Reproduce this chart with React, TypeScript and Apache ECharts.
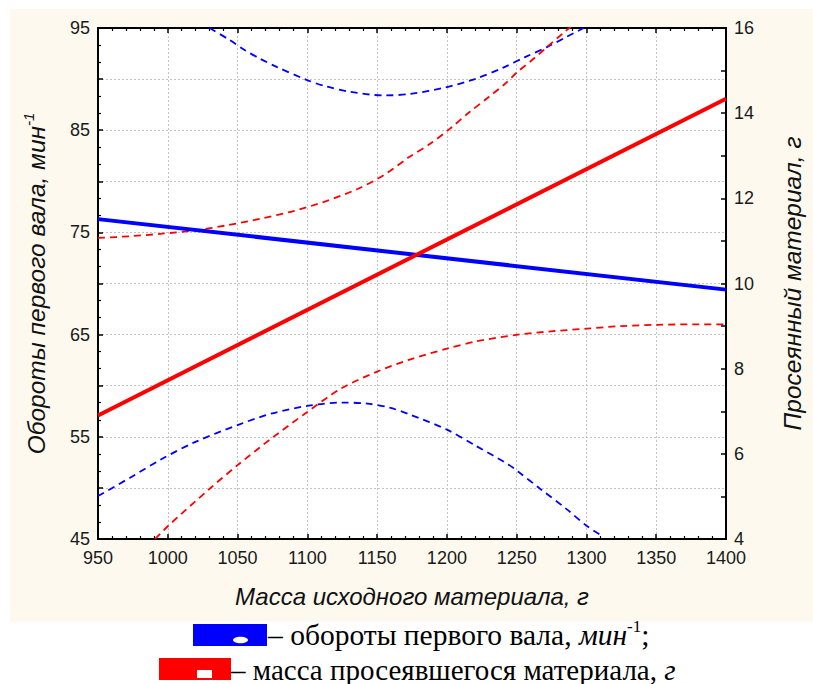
import React, { useEffect, useRef } from 'react';
import * as echarts from 'echarts';

// Regression lines
const blueLineX = [950, 1400];
const blueLineY = [76.3, 69.4];
const redLineX = [950, 1400];
const redLineY = [6.9, 14.34];

// Confidence bands – blue (left axis)
const blueUpperX = [1030, 1044, 1055, 1066, 1078, 1099, 1113, 1131, 1155, 1174, 1198, 1221, 1240, 1256, 1272, 1286, 1298];
const blueUpperY = [95, 93.85, 92.85, 92.0, 91.2, 89.95, 89.3, 88.75, 88.4, 88.55, 89.15, 90.05, 91.1, 92.15, 93.15, 94.15, 95.0];
const blueLowerX = [950, 973, 996, 1019, 1051, 1075, 1101, 1124, 1143, 1159, 1173, 1200, 1221, 1244, 1251, 1267, 1286, 1300, 1310];
const blueLowerY = [49.2, 51.0, 52.85, 54.45, 56.2, 57.3, 58.05, 58.35, 58.25, 57.85, 57.2, 55.7, 54.1, 52.3, 51.6, 49.9, 47.9, 46.3, 45.4];

// Confidence bands – red (right axis)
const redUpperX = [950, 973, 996, 1020, 1043, 1066, 1090, 1113, 1136, 1155, 1173, 1188, 1202, 1216, 1230, 1242, 1251, 1263, 1272, 1284, 1290];
const redUpperY = [11.07, 11.11, 11.17, 11.25, 11.37, 11.52, 11.7, 11.93, 12.22, 12.55, 12.97, 13.28, 13.63, 14.02, 14.38, 14.7, 14.98, 15.3, 15.56, 15.9, 16.06];
const redLowerX = [991, 1000, 1030, 1051, 1075, 1099, 1124, 1150, 1174, 1200, 1221, 1251, 1276, 1300, 1325, 1351, 1377, 1400];
const redLowerY = [4.0, 4.3, 5.18, 5.76, 6.38, 6.96, 7.53, 7.93, 8.22, 8.47, 8.64, 8.8, 8.88, 8.94, 9.0, 9.03, 9.04, 9.04];

const xAxisTitle = 'Масса исходного материала, г';
const leftAxisTitle = 'Обороты первого вала, мин';
const rightAxisTitle = 'Просеянный материал, г';
const legend1 = '– обороты первого вала, ';
const legend2 = '– масса просеявшегося материала, ';

const zip = (xs: number[], ys: number[]) => xs.map((x, i) => [x, ys[i]]);

const SANS = '"Liberation Sans", Arial, sans-serif';
const SERIF = '"Liberation Serif", "Times New Roman", serif';
const BLUE = '#0000FF';
const RED = '#FF0000';

export default function App() {
  const ref = useRef<HTMLDivElement>(null);
  useEffect(() => {
    document.body.style.margin = '0';
    const chart = echarts.init(ref.current!, null, { renderer: 'svg' });
    const axisLine = { show: true, onZero: false, lineStyle: { color: '#000', width: 2 } };
    const tick = { show: true, inside: true, length: 5, lineStyle: { color: '#000', width: 1.5 } };
    const gridLine = { show: true, lineStyle: { color: '#c4c4c4', type: [2, 2] as any, width: 1 } };
    const dashed = (color: string, data: number[][], yAxisIndex: number) => ({
      type: 'line', data, yAxisIndex, symbol: 'none', smooth: 0.3, silent: true,
      lineStyle: { color, width: 1.8, type: [7, 5] as any },
    });
    const solid = (color: string, data: number[][], yAxisIndex: number) => ({
      type: 'line', data, yAxisIndex, symbol: 'none', silent: true,
      lineStyle: { color, width: 4 },
    });
    chart.setOption({
      animation: false,
      backgroundColor: '#ffffff',
      grid: { left: 98, top: 28, width: 645, height: 511, show: true, backgroundColor: '#ffffff', borderColor: '#000', borderWidth: 2 },
      xAxis: [
        {
          type: 'value', min: 950, max: 1400, interval: 50, position: 'bottom',
          axisLine, axisTick: tick,
          minorTick: { show: true, splitNumber: 5, length: 3, lineStyle: { color: '#000', width: 1.2 } },
          axisLabel: { color: '#1a1a1a', fontSize: 18, fontFamily: SANS, margin: 10, formatter: (v: number) => String(v) },
          splitLine: gridLine,
          name: xAxisTitle, nameLocation: 'middle', nameGap: 45,
          nameTextStyle: { fontSize: 24, fontStyle: 'italic', fontFamily: SANS, color: '#111' },
        },
        {
          type: 'value', min: 950, max: 1400, interval: 50, position: 'top',
          axisLine, axisTick: tick,
          minorTick: { show: true, splitNumber: 5, length: 3, lineStyle: { color: '#000', width: 1.2 } },
          axisLabel: { show: false }, splitLine: { show: false },
        },
      ],
      yAxis: [
        {
          type: 'value', min: 45, max: 95, interval: 5, position: 'left',
          axisLine, axisTick: tick,
          minorTick: { show: true, splitNumber: 3, length: 3, lineStyle: { color: '#000', width: 1.2 } },
          axisLabel: {
            color: '#1a1a1a', fontSize: 18, fontFamily: SANS, margin: 8,
            formatter: (v: number) => ((Math.round(v - 45) % 10 === 0) ? String(v) : ''),
          },
          splitLine: gridLine,
          name: '{a|' + leftAxisTitle + '}{s|-1}', nameLocation: 'middle', nameRotate: 90, nameGap: 47,
          nameTextStyle: {
            color: '#111',
            rich: {
              a: { fontSize: 24.5, fontStyle: 'italic', fontFamily: SANS, color: '#111', lineHeight: 30 },
              s: { fontSize: 15, fontStyle: 'italic', fontFamily: SANS, color: '#111', verticalAlign: 'top', lineHeight: 12 },
            },
          },
        },
        {
          type: 'value', min: 4, max: 16, interval: 1, position: 'right',
          axisLine, axisTick: tick,
          axisLabel: {
            color: '#1a1a1a', fontSize: 18, fontFamily: SANS, margin: 8,
            formatter: (v: number) => (Math.round(v) % 2 === 0 ? String(v) : ''),
          },
          splitLine: { show: false },
          name: rightAxisTitle, nameLocation: 'middle', nameRotate: 90, nameGap: 53,
          nameTextStyle: { fontSize: 24.5, fontStyle: 'italic', fontFamily: SANS, color: '#111', lineHeight: 26 },
        },
      ],
      graphic: [
        { type: 'rect', z: -100, silent: true, shape: { x: 10, y: 9, width: 803, height: 613 }, style: { fill: '#FDF9EE' } },
        { type: 'rect', silent: true, shape: { x: 193, y: 624, width: 74, height: 22 }, style: { fill: BLUE } },
        { type: 'ellipse', silent: true, shape: { cx: 240.5, cy: 640, rx: 7.5, ry: 3.3 }, style: { fill: '#fff' } },
        { type: 'rect', silent: true, shape: { x: 159, y: 658, width: 72, height: 22 }, style: { fill: RED } },
        { type: 'rect', silent: true, shape: { x: 197, y: 670, width: 15, height: 8 }, style: { fill: '#fff' } },
        {
          type: 'text', silent: true, x: 268, y: 635,
          style: {
            text: '{n|' + legend1 + '}{i|мин}{s|-1}{n|;}',
            verticalAlign: 'middle', align: 'left',
            rich: {
              n: { fontSize: 29.5, fontFamily: SERIF, fill: '#000', lineHeight: 34 },
              i: { fontSize: 29.5, fontFamily: SERIF, fontStyle: 'italic', fill: '#000', lineHeight: 34 },
              s: { fontSize: 17, fontFamily: SERIF, fill: '#000', verticalAlign: 'top', lineHeight: 12 },
            },
          },
        },
        {
          type: 'text', silent: true, x: 231, y: 669.5,
          style: {
            text: '{n|' + legend2 + '}{i|г}',
            verticalAlign: 'middle', align: 'left',
            rich: {
              n: { fontSize: 29, fontFamily: SERIF, fill: '#000', lineHeight: 26 },
              i: { fontSize: 29, fontFamily: SERIF, fontStyle: 'italic', fill: '#000', lineHeight: 26 },
            },
          },
        },
      ],
      series: [
        dashed(BLUE, zip(blueUpperX, blueUpperY), 0),
        dashed(BLUE, zip(blueLowerX, blueLowerY), 0),
        dashed(RED, zip(redUpperX, redUpperY), 1),
        dashed(RED, zip(redLowerX, redLowerY), 1),
        solid(BLUE, zip(blueLineX, blueLineY), 0),
        solid(RED, zip(redLineX, redLineY), 1),
      ],
    });
    return () => chart.dispose();
  }, []);
  return <div ref={ref} style={{ position: 'absolute', left: 0, top: 0, width: 813, height: 684 }} />;
}
